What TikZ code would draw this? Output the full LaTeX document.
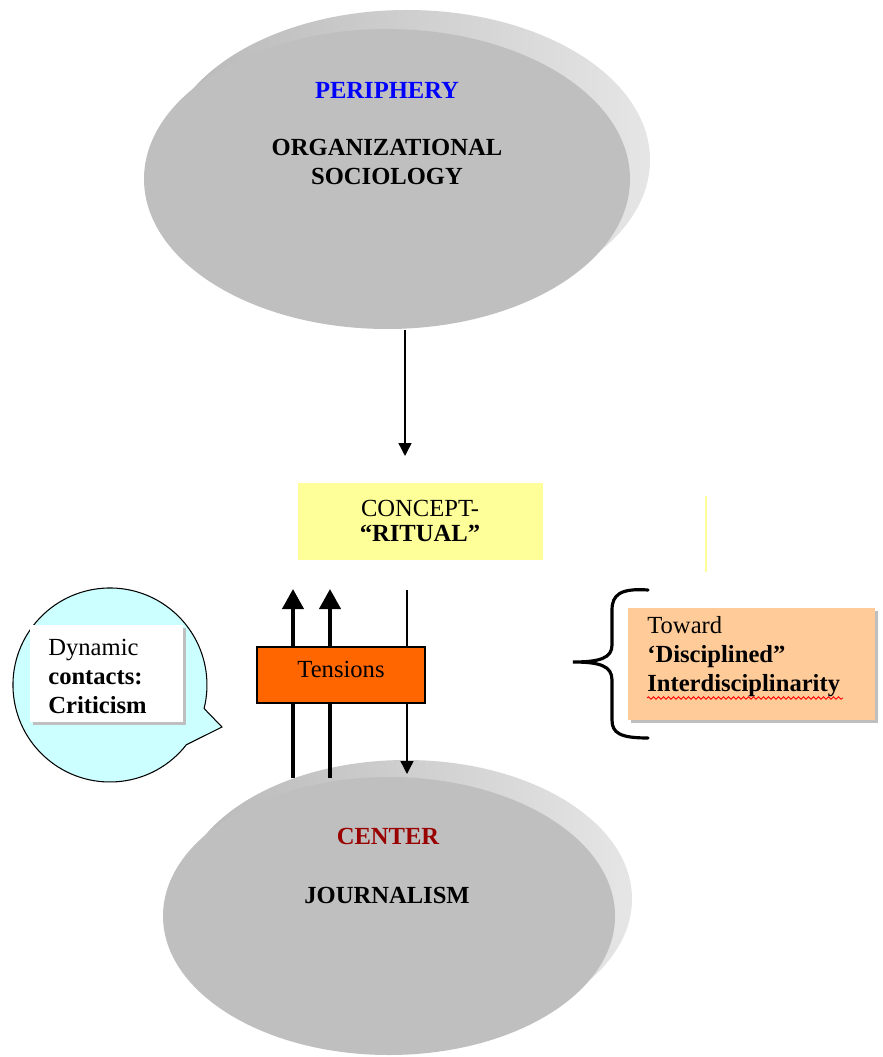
\documentclass[tikz,border=0pt]{standalone}
\usepackage{fontspec}
\setmainfont{Liberation Serif}
\usetikzlibrary{arrows.meta,shadows,decorations.pathmorphing}

\definecolor{periblue}{HTML}{0000FF}
\definecolor{centerred}{HTML}{990000}
\definecolor{conceptyellow}{HTML}{FFFF99}
\definecolor{tensionorange}{HTML}{FF6600}
\definecolor{bubblecyan}{HTML}{CCFFFF}
\definecolor{towardtan}{HTML}{FFCC99}

\begin{document}
\begin{tikzpicture}[x=0.02cm, y=-0.02cm,
        disktext/.style={font=\fontsize{14}{16.5}\selectfont\bfseries, align=center, inner sep=0pt},
        boxtext/.style={font=\fontsize{14}{16.5}\selectfont, align=left, inner sep=0pt},
        boxshadow/.style={drop shadow={shadow xshift=0.06cm, shadow yshift=-0.06cm, fill=black!25, opacity=1}},
        thinarrow/.style={-{Triangle[width=0.26cm,length=0.26cm]}, line width=0.8pt},
        thickarrow/.style={-{Triangle[width=0.42cm,length=0.4cm]}, line width=2.3pt}]

    \useasboundingbox (0,0) rectangle (882,1057);

    \colorlet{disk_front}{black!25}
    \colorlet{disk_side_left}{black!28}
    \colorlet{disk_side_dark}{black!40}
    \colorlet{disk_side_light}{black!10}

    % periphery disk
    \begin{scope}[shift={(387,179)}]
        \shade[left color=disk_side_left, middle color=disk_side_dark, right color=disk_side_light] (20,-19) ellipse [x radius=243, y radius=150];
        \fill[disk_front] (0,0) ellipse [x radius=243, y radius=150];
    \end{scope}
    \node[disktext, text=periblue] (periphery) at (387,90) {PERIPHERY};
    \node[disktext] (orgsoc) at (387,162) {ORGANIZATIONAL\\SOCIOLOGY};

    % center disk
    \begin{scope}[shift={(389,916)}]
        \shade[left color=disk_side_left, middle color=disk_side_dark, right color=disk_side_light] (17,-17) ellipse [x radius=226, y radius=139];
        \fill[disk_front] (0,0) ellipse [x radius=226, y radius=139];
    \end{scope}
    \node[disktext, text=centerred] (center) at (388,836) {CENTER};
    \node[disktext] (journalism) at (387,895) {JOURNALISM};

    % concept box
    \node[fill=conceptyellow, minimum width=4.9cm, minimum height=1.54cm, inner sep=0pt] (concept) at (420.5,521.5) {};
    \node[boxtext, align=center, font=\fontsize{14}{14.5}\selectfont] (concepttext) at (420,521) {CONCEPT-\\\textbf{“RITUAL”}};
    \coordinate (stray_top) at (706,496);
    \coordinate (stray_bottom) at (706,572);
    \draw[conceptyellow, line width=0.8pt] (stray_top) -- (stray_bottom);

    % arrows
    \coordinate (peri_foot) at (405,330);
    \coordinate (concept_tip) at (405,456);
    \draw[thinarrow] (peri_foot) -- (concept_tip);

    \foreach \x [count=\i] in {293, 330} {
            \coordinate (upfoot\i) at (\x,778);
            \coordinate (uptip\i) at (\x,589);
            \draw[thickarrow] (upfoot\i) -- (uptip\i);
        }
    \coordinate (down_start) at (407,590);
    \coordinate (down_tip) at (407,774);
    \draw[thinarrow] (down_start) -- (down_tip);

    \node[draw, fill=tensionorange, line width=0.8pt, minimum width=3.36cm, minimum height=1.12cm, inner sep=0pt] (tensions) at (341,675) {};
    \node[boxtext] (tensionstext) at (341,669) {Tensions};

    % speech bubble
    \filldraw[fill=bubblecyan, draw=black, line width=0.6pt]
        (204.1,708.5) -- (222,727) -- (186.4,744.7) arc[start angle=38, end angle=374, radius=97] -- cycle;
    \node[fill=white, boxshadow, minimum width=3.06cm, minimum height=1.94cm, inner sep=0pt] (criticbox) at (106.5,673.5) {};
    \node[boxtext, anchor=west] (critictext) at (48,676) {Dynamic\\\textbf{contacts:}\\\textbf{Criticism}};

    % brace and toward box
    \draw[line width=1.8pt, line cap=round]
        (648,590) .. controls (620,588) and (612,595) .. (612,610) -- (612,645)
        .. controls (612,658) and (600,662) .. (573,662)
        .. controls (600,662) and (612,666) .. (612,680) -- (612,720)
        .. controls (612,733) and (620,738) .. (648,738);

    \node[fill=towardtan, boxshadow, minimum width=4.94cm, minimum height=2.24cm, inner sep=0pt] (towardbox) at (751.5,664) {};
    \node[boxtext, anchor=west] (towardtext) at (647,657) {Toward\\\textbf{‘Disciplined”}\\\textbf{Interdisciplinarity}};
    \coordinate (wave_start) at (647,698);
    \coordinate (wave_end) at (843,698);
    \draw[red, line width=0.5pt, decorate, decoration={snake, amplitude=0.025cm, segment length=0.1cm}] (wave_start) -- (wave_end);
\end{tikzpicture}
\end{document}
